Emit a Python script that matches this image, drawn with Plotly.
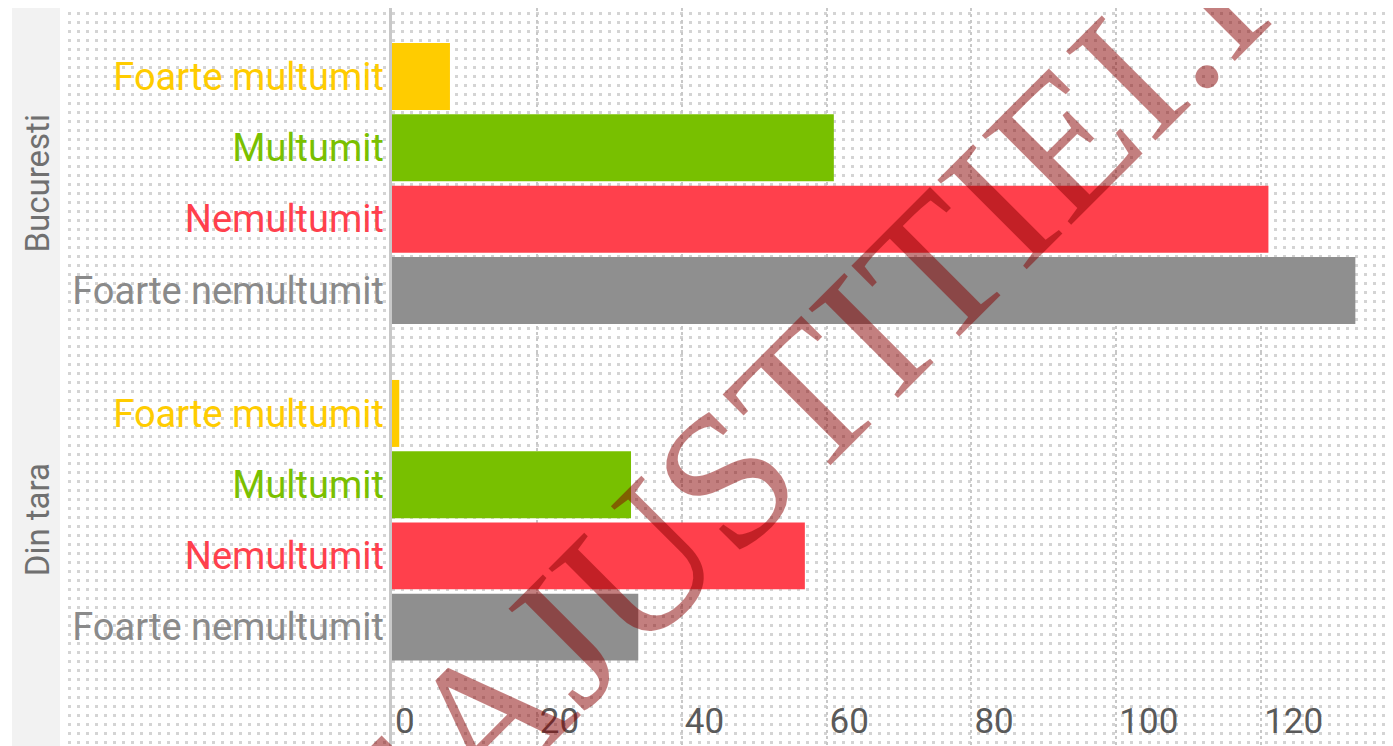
import base64
import plotly.graph_objects as go

# ---- data ----
groups = ["Bucuresti", "Din tara"]
categories = ["Foarte multumit", "Multumit", "Nemultumit", "Foarte nemultumit"]
bucuresti = [8, 61, 121, 133]
din_tara = [1, 33, 57, 34]
x_ticks = [0, 20, 40, 60, 80, 100, 120]
colors = ["#FFCC00", "#78C000", "#FF404C", "#8F8F8F"]
label_colors = ["#FFCC00", "#7AC000", "#FF404C", "#8A8A8A"]
watermark = "LUMEAJUSTITIEI.RO"

OFF = 8  # default page body margin
W, H = 1393 - OFF, 746 - OFF
L, T, R, B = 392 - OFF, 0, 0, 0
PW, PH = W - L - R, H - T - B

def px_x(rx):  # reference page pixel -> paper x
    return (rx - OFF - L) / PW

def px_y(ry):  # reference page pixel -> paper y
    return (H - B - (ry - OFF)) / PH

FONT = "Roboto, Liberation Sans Narrow, sans-serif"

fig = go.Figure()
values = [bucuresti, din_tara]
axes = [("x", "y"), ("x2", "y2")]
for g, vals in enumerate(values):
    fig.add_trace(go.Bar(
        orientation="h", y=categories, x=vals,
        marker=dict(color=colors, line=dict(width=0)),
        xaxis=axes[g][0], yaxis=axes[g][1], showlegend=False,
        hoverinfo="x+y",
    ))

ticktext = [f"<span style='color:{c}'>{t}</span>" for t, c in zip(categories, label_colors)]
split = px_y(352)
yax_common = dict(
    type="category", categoryorder="array", categoryarray=categories,
    tickmode="array", tickvals=categories, ticktext=ticktext,
    tickfont=dict(family=FONT, size=38), ticks="", showgrid=False,
    zeroline=False, showline=False, ticklabelstandoff=7,
)
xax_common = dict(
    range=[0, 138.2], tickvals=x_ticks, showgrid=True, gridcolor="#C8C8C8",
    gridwidth=2, griddash="3px,3px", zeroline=False, showline=False, ticks="",
)

# bar step 71.3 px per category (reference pixels)
step = 71.3
top_px = OFF + T
top_range = [3 + (352 - 290.5) / step, -(76.5 - top_px) / step]
bot_range = [3 + (746 - 627) / step, -(413.5 - 352) / step]

fig.update_layout(
    width=W, height=H,
    margin=dict(l=L, r=R, t=T, b=B, pad=0),
    paper_bgcolor="white", plot_bgcolor="rgba(0,0,0,0)",
    bargap=0.06,
    xaxis=dict(**xax_common, anchor="y", showticklabels=False),
    xaxis2=dict(**xax_common, anchor="y2", matches="x", showticklabels=True,
                ticklabelposition="inside right", ticklabelshift=3,
                tickfont=dict(family=FONT, size=35, color="#5A5A5A")),
    yaxis=dict(**yax_common, domain=[split, 1], range=top_range, anchor="x"),
    yaxis2=dict(**yax_common, domain=[0, split], range=bot_range, anchor="x2"),
)

# dotted background pattern (decoration)
bx0, by0 = 65, 9
bw, bh = 1393 - bx0, 746 - by0
svg = (f"<svg xmlns='http://www.w3.org/2000/svg' width='{bw}' height='{bh}'>"
       "<defs><pattern id='p' x='0' y='0' width='9' height='9' patternUnits='userSpaceOnUse'>"
       "<rect x='3' y='3' width='3' height='3' fill='#D4D4D4'/></pattern></defs>"
       f"<rect width='{bw}' height='{bh}' fill='url(#p)'/></svg>")
src = "data:image/svg+xml;base64," + base64.b64encode(svg.encode()).decode()
fig.add_layout_image(dict(
    source=src, xref="paper", yref="paper", x=px_x(bx0), y=px_y(by0),
    sizex=bw / PW, sizey=bh / PH, xanchor="left", yanchor="top",
    sizing="stretch", layer="below",
))

# left gray strip
fig.add_shape(type="rect", xref="paper", yref="paper",
              x0=px_x(12), x1=px_x(60), y0=px_y(760), y1=px_y(7),
              fillcolor="#F2F2F2", line=dict(width=0), layer="below")
# y axis line
fig.add_shape(type="line", xref="paper", yref="paper",
              x0=px_x(390.5), x1=px_x(390.5), y0=px_y(760), y1=px_y(7),
              line=dict(color="#C8C8C8", width=3))

# group labels
for g, name in enumerate(groups):
    fig.add_annotation(text=name, xref="paper", yref=axes[g][1], x=px_x(37), y=1.5,
                       textangle=-90, showarrow=False, xanchor="center", yanchor="middle",
                       font=dict(family=FONT, size=33, color="#707070"))

# watermark
fig.add_annotation(text=watermark, xref="paper", yref="paper",
                   x=px_x(712), y=px_y(492),
                   textangle=-45, showarrow=False, xanchor="center", yanchor="middle",
                   font=dict(family="Liberation Serif, Times New Roman, serif", size=193,
                             color="rgba(135,0,0,0.5)"))

fig.write_html("out.html")
